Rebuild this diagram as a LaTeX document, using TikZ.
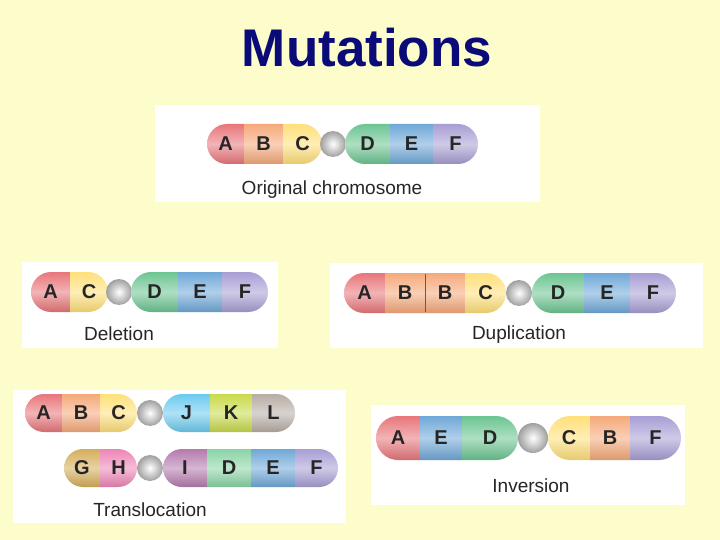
\documentclass[tikz,border=0pt]{standalone}
\usepackage{fontspec}
\setmainfont{Liberation Sans}
\definecolor{bgyellow}{HTML}{FDFDCB}
\definecolor{navy}{HTML}{0A0A78}
\definecolor{cA}{HTML}{E8767A}
\definecolor{cB}{HTML}{F5A97A}
\definecolor{cC}{HTML}{FFE07A}
\definecolor{cD}{HTML}{6CC592}
\definecolor{cDl}{HTML}{8AD4A6}
\definecolor{cE}{HTML}{6FA8D8}
\definecolor{cF}{HTML}{A89ED4}
\definecolor{cJ}{HTML}{6CCBEF}
\definecolor{cK}{HTML}{C8DA4A}
\definecolor{cL}{HTML}{B8ADA5}
\definecolor{cG}{HTML}{D5AE5A}
\definecolor{cH}{HTML}{EE85B7}
\definecolor{cI}{HTML}{B57AAE}
% one arm of a chromosome: left, right, y, height, segments
\newcommand\chrarm[5]{%
  \begin{scope}
    \clip[rounded corners=#4/2*1pt] (#1,#3-#4/2) rectangle (#2,#3+#4/2);
    \foreach \xa/\xb/\col/\lab in {#5}{
      \shade[top color=\col, bottom color=\col!90!black, middle color=\col!55!white]
        (\xa,#3-#4/2) rectangle (\xb,#3+#4/2);
      \node[gene] at ({(\xa+\xb)/2},#3) {\lab};
    }
  \end{scope}}
\newcommand\centro[3]{%
  \shade[inner color=white, outer color=gray!75] (#1,#2) circle (#3);}
\begin{document}
\begin{tikzpicture}[x=1pt, y=-1pt,
  gene/.style={font=\bfseries\fontsize{20}{20}\selectfont, text=black!85},
  caption/.style={font=\fontsize{19}{19}\selectfont, text=black!85},
  panel/.style={fill=white, draw=none}]
\fill[bgyellow] (0,0) rectangle (720,540);
\node[font=\bfseries\fontsize{53}{53}\selectfont, text=navy] (title) at (367,48) {Mutations};

% original
\fill[panel] (155,105) rectangle (540,202);
\chrarm{207}{322}{144}{40}{207/244/cA/A, 244/283/cB/B, 283/322/cC/C}
\centro{333}{144}{13}
\chrarm{345}{478}{144}{40}{345/390/cD/D, 390/433/cE/E, 433/478/cF/F}
\node[caption] (orig) at (332,190) {Original chromosome};

% deletion
\fill[panel] (22,262) rectangle (278,348);
\chrarm{31}{108}{292}{40}{31/70/cA/A, 70/108/cC/C}
\centro{119}{292}{13}
\chrarm{131}{268}{292}{40}{131/178/cD/D, 178/222/cE/E, 222/268/cF/F}
\node[caption] (del) at (119,334) {Deletion};

% duplication
\fill[panel] (330,263) rectangle (703,348);
\chrarm{344}{506}{293}{40}{344/385/cA/A, 385/425/cB/B, 425/465/cB/B, 465/506/cC/C}
\draw[cB!50!black, line width=0.8pt] (425,274) -- (425,312);
\centro{519}{293}{13}
\chrarm{532}{676}{293}{40}{532/584/cD/D, 584/630/cE/E, 630/676/cF/F}
\node[caption] (dup) at (519,335) {Duplication};

% translocation
\fill[panel] (13,390) rectangle (346,523);
\chrarm{25}{137}{413}{38}{25/62/cA/A, 62/100/cB/B, 100/137/cC/C}
\centro{150}{413}{13}
\chrarm{163}{295}{413}{38}{163/210/cJ/J, 210/252/cK/K, 252/295/cL/L}
\chrarm{64}{137}{468}{38}{64/100/cG/G, 100/137/cH/H}
\centro{150}{468}{13}
\chrarm{163}{338}{468}{38}{163/207/cI/I, 207/251/cDl/D, 251/295/cE/E, 295/338/cF/F}
\node[caption] (trans) at (150,510) {Translocation};

% inversion
\fill[panel] (371,405) rectangle (685,505);
\chrarm{376}{518}{438}{44}{376/420/cA/A, 420/462/cE/E, 462/518/cD/D}
\centro{533}{438}{15}
\chrarm{548}{681}{438}{44}{548/590/cC/C, 590/630/cB/B, 630/681/cF/F}
\node[caption] (inv) at (531,486) {Inversion};
\end{tikzpicture}
\end{document}
